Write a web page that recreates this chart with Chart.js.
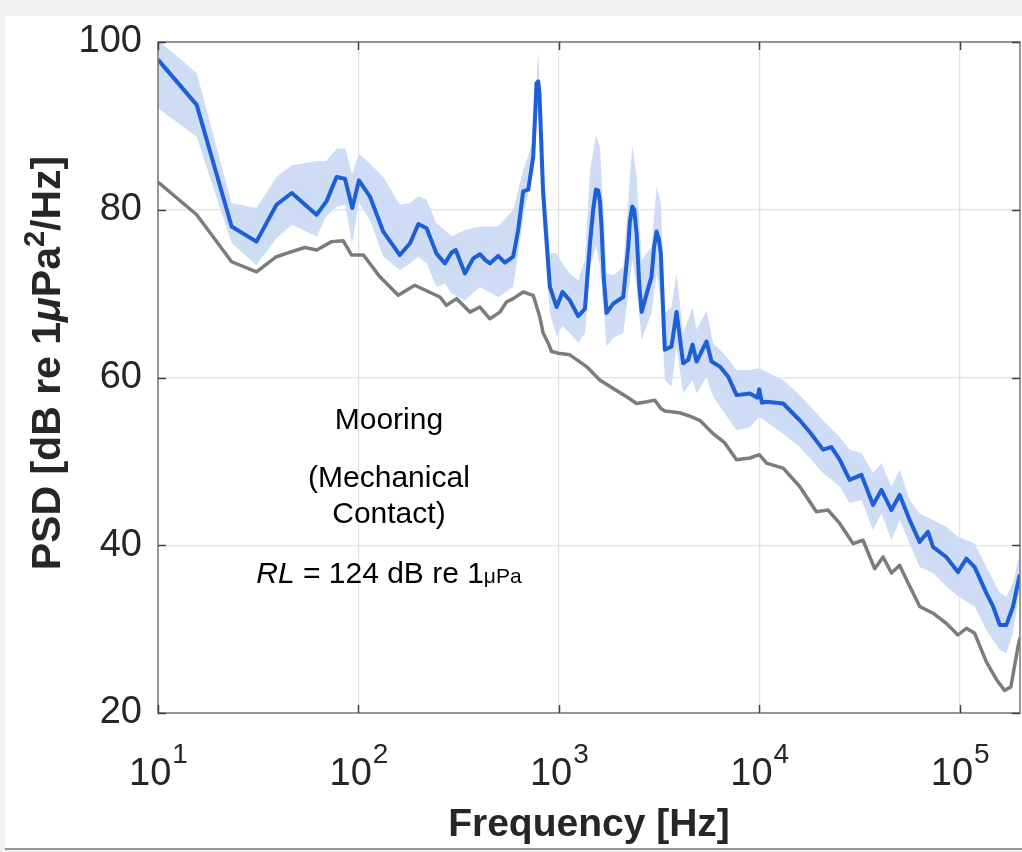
<!DOCTYPE html>
<html lang="en">
<head>
    <meta charset="UTF-8">
    <title>PSD - Mooring (Mechanical Contact)</title>
    <script src="https://cdn.jsdelivr.net/npm/chart.js"></script>
    <style>
        body { margin: 0; background: #f1f1f1; width: 1022px; height: 852px; overflow: hidden; }
        #panel { position: absolute; left: 5px; top: 16px; width: 1017px; height: 832px; background: #fff; border-bottom: 2px solid #9a9a9a; }
        #psdChart { position: absolute; left: 0; top: 0; }
    </style>
</head>
<body>
    <div id="panel"></div>
    <canvas id="psdChart" width="1022" height="852"></canvas>

    <script>
        // mean PSD (blue)
        const meanFreq = [10, 15.6, 23.3, 31, 39, 46.5, 61.8, 69.3, 77.8, 85.7, 93.2, 100.6, 114, 133, 161, 181, 199, 219, 245, 270,
            292, 306, 340, 374, 404, 430, 453, 498, 538, 592, 627, 664, 704, 745, 774, 789, 800, 835, 902, 975,
            1043, 1135, 1250, 1350, 1430, 1483, 1532, 1570, 1604, 1633, 1675, 1731, 1868, 2096, 2220, 2260, 2325, 2378, 2444, 2520,
            2590, 2743, 2900, 2985, 3073, 3155, 3228, 3313, 3380, 3650,
            3867, 4171, 4420, 4648, 4866, 5460, 5780, 6360, 7000, 7710, 8980, 9800, 10000, 10300, 10870, 13160, 15920, 17860, 20800, 22900,
            25200, 28250, 32340, 36980, 40700, 45650, 50200, 56300, 63100, 69500, 73600, 85700, 98000, 108000, 118800, 135900, 146800, 158500, 171100, 184600,
            197800, 200000];
        const meanPsd = [97.9, 92.5, 78.0, 76.2, 80.6, 82.0, 79.4, 81.0, 83.9, 83.7, 80.2, 83.5, 81.6, 77.4, 74.6, 76.0, 78.3, 77.8, 74.8, 73.6,
            74.9, 75.2, 72.4, 74.2, 74.7, 74.0, 73.6, 74.5, 73.7, 74.4, 77.6, 82.2, 82.4, 86.3, 95.1, 95.3, 94.0, 82.0, 70.8, 68.4,
            70.2, 69.2, 67.3, 68.2, 76.0, 80.0, 82.4, 82.3, 81.0, 78.0, 72.0, 67.7, 68.8, 69.6, 75.6, 78.5, 80.4, 80.0, 77.2, 71.0,
            67.8, 70.0, 72.0, 75.5, 77.4, 76.5, 74.8, 68.0, 63.3, 63.7,
            67.8, 61.7, 62.1, 63.9, 61.9, 64.3, 61.9, 61.3, 60.1, 57.9, 58.1, 57.6, 58.6, 57.0, 57.1, 56.9, 54.9, 53.5, 51.4, 51.7,
            50.2, 47.8, 48.4, 44.8, 46.6, 44.2, 46.0, 43.0, 40.4, 41.6, 39.8, 38.6, 36.8, 38.4, 37.4, 34.3, 32.7, 30.5, 30.5, 32.7,
            36.1, 36.5];

        // spread around the mean (light blue band)
        const bandFreq = [10, 15.6, 23.3, 31, 39, 46.5, 62, 69, 78, 86, 93, 100.6, 114, 133, 161, 181, 199, 219, 245, 270,
            292, 340, 404, 498, 592, 664, 745, 789, 835, 902, 975, 1043, 1135, 1250, 1350, 1430, 1532, 1604, 1731, 1868,
            2096, 2220, 2325, 2444, 2590, 2900, 3073, 3228, 3380, 3650, 3867, 4171, 4648, 4866, 5460, 5890, 6730, 7700, 8980, 10000,
            13160, 15920, 20800, 25200, 28250, 32340, 36980, 40700, 45650, 50200, 56300, 63100, 73600, 85700, 98000, 118800, 135900, 158500, 171100, 184600,
            197800, 200000];
        const bandUpper = [100.2, 96.3, 80.8, 80.2, 83.9, 85.3, 85.8, 85.8, 87.3, 87.3, 84.3, 86.7, 85.5, 83.9, 80.6, 80.8, 81.6, 81.2, 78.4, 77.6,
            76.8, 77.6, 78.0, 78.0, 80.0, 84.7, 88.3, 99.0, 85.9, 74.8, 74.8, 73.6, 72.4, 71.6, 74.0, 84.7, 88.9, 87.5, 72.4, 72.2,
            73.2, 81.2, 87.7, 83.9, 74.0, 75.6, 82.7, 80.8, 67.7, 68.4, 72.4, 65.3, 68.4, 65.7, 68.0, 64.1, 62.7, 60.9, 60.9, 61.1,
            59.7, 57.9, 54.9, 52.9, 51.4, 51.0, 48.6, 49.8, 47.0, 49.0, 45.4, 43.8, 43.0, 42.2, 41.0, 40.2, 37.4, 34.3, 33.9, 35.5,
            38.6, 39.5];
        const bandLower = [92.1, 88.7, 76.0, 73.4, 76.6, 78.2, 76.8, 79.2, 80.4, 80.6, 76.0, 80.8, 78.8, 74.4, 72.8, 73.6, 74.4, 73.6, 70.8, 71.2,
            70.0, 69.2, 70.8, 69.6, 70.8, 79.2, 84.7, 92.3, 78.0, 67.7, 64.9, 66.1, 65.3, 64.1, 65.3, 73.2, 75.6, 73.2, 63.7, 64.7,
            65.3, 70.0, 74.0, 70.8, 64.5, 67.7, 72.4, 69.2, 59.7, 58.9, 63.7, 58.1, 59.7, 58.1, 60.1, 57.7, 55.7, 53.7, 54.1, 55.3,
            53.3, 51.7, 48.6, 47.0, 45.0, 45.4, 41.8, 43.8, 40.6, 43.0, 40.2, 37.4, 36.7, 35.1, 33.9, 32.7, 29.9, 27.5, 27.1, 29.5,
            34.3, 35.0];

        // background / reference level (grey)
        const bgFreq = [10, 15.6, 23.3, 31, 39, 46.5, 54, 62, 73.5, 84, 92.5, 106, 128, 158, 191, 255, 275, 309, 360, 404,
            453, 508, 548, 592, 664, 700, 745, 804, 835, 885, 920, 993, 1135, 1375, 1600, 1868, 2180, 2444, 2743, 3014,
            3230, 3380, 4000, 4500, 5050, 5890, 6730, 7700, 8980, 10000, 10870, 13160, 15920, 19280, 22030, 25200, 29370, 32940, 37680, 41470,
            45650, 50200, 55300, 63200, 73600, 85700, 98000, 108000, 118800, 135900, 153500, 167400, 180000, 195400, 200000];
        const bgPsd = [83.3, 79.4, 73.8, 72.6, 74.4, 75.0, 75.5, 75.2, 76.2, 76.3, 74.6, 74.6, 72.0, 69.8, 71.0, 69.6, 68.6, 69.4, 67.8, 68.4,
            67.0, 67.8, 69.0, 69.4, 70.2, 70.0, 69.8, 67.2, 65.3, 64.1, 63.1, 62.9, 62.7, 61.3, 59.7, 58.7, 57.7, 56.9, 57.1, 57.3,
            56.3, 56.0, 55.8, 55.4, 54.9, 53.3, 52.2, 50.2, 50.4, 50.8, 49.8, 49.2, 47.0, 44.0, 44.2, 42.6, 40.2, 40.6, 37.2, 38.6,
            36.7, 37.6, 35.5, 32.7, 31.9, 30.7, 29.3, 30.1, 29.5, 26.1, 23.9, 22.7, 23.1, 27.9, 29.0];

        const xTickValues = [10, 100, 1000, 10000, 100000];
        const xTickExponents = ['1', '2', '3', '4', '5'];
        const yTickValues = [20, 40, 60, 80, 100];

        const FONT = "'Liberation Sans', Arial, Helvetica, sans-serif";
        const toPoints = (xs, ys) => xs.map((f, i) => ({ x: f, y: ys[i] }));

        // box, inward ticks, 10^n labels and the text notes
        const framePlugin = {
            id: 'frame',
            afterDraw(chart, args, opts) {
                const { ctx, chartArea: a, scales: { x, y } } = chart;
                ctx.save();
                ctx.strokeStyle = '#7a7a7a';
                ctx.lineWidth = 1.5;
                ctx.strokeRect(a.left, a.top, a.right - a.left, a.bottom - a.top);
                ctx.strokeStyle = '#404040';
                ctx.beginPath();
                xTickValues.forEach(v => {
                    const px = Math.round(x.getPixelForValue(v)) + 0.5;
                    ctx.moveTo(px, a.bottom); ctx.lineTo(px, a.bottom - 8);
                    ctx.moveTo(px, a.top); ctx.lineTo(px, a.top + 8);
                });
                yTickValues.forEach(v => {
                    const py = Math.round(y.getPixelForValue(v)) + 0.5;
                    ctx.moveTo(a.left, py); ctx.lineTo(a.left + 8, py);
                    ctx.moveTo(a.right, py); ctx.lineTo(a.right - 8, py);
                });
                ctx.stroke();

                // x tick labels as 10 with a raised exponent
                ctx.fillStyle = '#262626';
                ctx.textBaseline = 'alphabetic';
                ctx.textAlign = 'left';
                xTickValues.forEach((v, i) => {
                    const px = x.getPixelForValue(v);
                    ctx.font = `38px ${FONT}`;
                    const wBase = ctx.measureText('10').width;
                    ctx.font = `28px ${FONT}`;
                    const wExp = ctx.measureText(xTickExponents[i]).width;
                    const left = px - (wBase + wExp) / 2;
                    ctx.font = `38px ${FONT}`;
                    ctx.fillText('10', left, a.bottom + 72);
                    ctx.font = `28px ${FONT}`;
                    ctx.fillText(xTickExponents[i], left + wBase + 1, a.bottom + 50);
                });

                // y axis title, drawn by hand for the raised 2 and italic mu
                ctx.save();
                ctx.translate(opts.yTitleX, opts.yTitleY);
                ctx.rotate(-Math.PI / 2);
                const tParts = [
                    { text: 'PSD [dB re 1', font: `bold 41px ${FONT}`, dy: 0 },
                    { text: '\u03bc', font: `italic bold 41px ${FONT}`, dy: 0 },
                    { text: 'Pa', font: `bold 41px ${FONT}`, dy: 0 },
                    { text: '2', font: `bold 29px ${FONT}`, dy: -16 },
                    { text: '/Hz]', font: `bold 41px ${FONT}`, dy: 0 }
                ];
                let tw = 0;
                tParts.forEach(p => { ctx.font = p.font; tw += ctx.measureText(p.text).width; });
                let tx = -tw / 2;
                ctx.fillStyle = '#262626';
                tParts.forEach(p => {
                    ctx.font = p.font;
                    ctx.fillText(p.text, tx, 14 + p.dy);
                    tx += ctx.measureText(p.text).width;
                });
                ctx.restore();

                // notes
                ctx.fillStyle = '#000';
                const nx = x.getPixelForValue(opts.noteX);
                opts.lines.forEach(line => {
                    const py = y.getPixelForValue(line.y);
                    const parts = line.parts;
                    let total = 0;
                    parts.forEach(p => { ctx.font = p.font; total += ctx.measureText(p.text).width; });
                    let cx = nx - total / 2;
                    parts.forEach(p => {
                        ctx.font = p.font;
                        ctx.fillText(p.text, cx, py);
                        cx += ctx.measureText(p.text).width;
                    });
                });
                ctx.restore();
            }
        };

        const ctx = document.getElementById('psdChart').getContext('2d');
        new Chart(ctx, {
            type: 'line',
            data: {
                datasets: [
                    {
                        label: 'Mean',
                        data: toPoints(meanFreq, meanPsd),
                        borderColor: '#1c5fd6',
                        borderWidth: 4,
                        borderJoinStyle: 'round',
                        pointRadius: 0,
                        tension: 0,
                        fill: false
                    },
                    {
                        label: 'Background',
                        data: toPoints(bgFreq, bgPsd),
                        borderColor: '#7c7c7c',
                        borderWidth: 3.5,
                        borderJoinStyle: 'round',
                        pointRadius: 0,
                        tension: 0,
                        fill: false
                    },
                    {
                        label: 'Upper',
                        data: toPoints(bandFreq, bandUpper),
                        borderWidth: 0,
                        borderColor: 'rgba(0,0,0,0)',
                        backgroundColor: '#cfdcf5',
                        pointRadius: 0,
                        tension: 0,
                        fill: '+1'
                    },
                    {
                        label: 'Lower',
                        data: toPoints(bandFreq, bandLower),
                        borderWidth: 0,
                        borderColor: 'rgba(0,0,0,0)',
                        pointRadius: 0,
                        tension: 0,
                        fill: false
                    }
                ]
            },
            options: {
                responsive: false,
                animation: false,
                layout: { padding: { top: 42, right: 2, left: 0, bottom: 0 } },
                scales: {
                    x: {
                        type: 'logarithmic',
                        min: 10,
                        max: 200000,
                        afterBuildTicks: s => { s.ticks = xTickValues.map(v => ({ value: v })); },
                        afterFit: s => { s.height = 139; },
                        ticks: { display: false },
                        grid: { color: '#e2e2e2', lineWidth: 1.2, drawTicks: false },
                        border: { display: false },
                        title: {
                            display: true,
                            text: 'Frequency [Hz]',
                            color: '#262626',
                            font: { family: FONT, size: 39, weight: 'bold', lineHeight: 1.2 },
                            padding: { top: 0, bottom: 3 }
                        }
                    },
                    y: {
                        min: 20,
                        max: 100,
                        afterBuildTicks: s => { s.ticks = yTickValues.map(v => ({ value: v })); },
                        afterFit: s => { s.width = 158; },
                        ticks: {
                            color: '#262626',
                            padding: 16,
                            font: { family: FONT, size: 38 }
                        },
                        grid: { color: '#e2e2e2', lineWidth: 1.2, drawTicks: false },
                        border: { display: false },
                        title: { display: false }
                    }
                },
                plugins: {
                    legend: { display: false },
                    tooltip: { enabled: false },
                    frame: {
                        yTitleX: 46,
                        yTitleY: 363,
                        noteX: 142,
                        lines: [
                            { y: 53.9, parts: [{ text: 'Mooring', font: `30px ${FONT}` }] },
                            { y: 46.9, parts: [{ text: '(Mechanical', font: `30px ${FONT}` }] },
                            { y: 42.6, parts: [{ text: 'Contact)', font: `30px ${FONT}` }] },
                            { y: 35.5, parts: [
                                { text: 'RL', font: `italic 30px ${FONT}` },
                                { text: ' = 124 dB re 1', font: `30px ${FONT}` },
                                { text: '\u03bcPa', font: `21px ${FONT}` }
                            ] }
                        ]
                    }
                }
            },
            plugins: [framePlugin]
        });
    </script>
</body>
</html>
